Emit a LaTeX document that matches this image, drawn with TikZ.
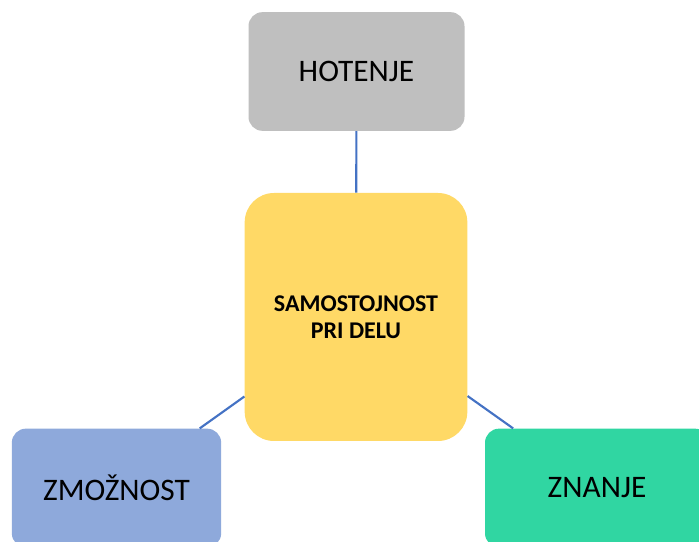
\documentclass[tikz,border=0pt]{standalone}
\usepackage{fontspec}
\setmainfont{Carlito}
\usepackage{tikz}
\usetikzlibrary{positioning}
\definecolor{box_gray}{RGB}{191,191,191}
\definecolor{box_yellow}{RGB}{255,217,102}
\definecolor{box_blue}{RGB}{142,169,219}
\definecolor{box_green}{RGB}{48,214,162}
\definecolor{link_blue}{RGB}{68,114,196}

\begin{document}
\begin{tikzpicture}[x=0.75pt,y=0.75pt,
    pojem/.style={rounded corners=10.5pt,minimum width=162pt,minimum height=89pt,font=\fontsize{23.5}{28}\selectfont,inner sep=0pt},
    jedro/.style={rounded corners=22pt,minimum width=167pt,minimum height=186pt,align=center,font=\fontsize{18}{20.5}\selectfont\bfseries},
    vez/.style={link_blue,line width=1.6pt}]
  \useasboundingbox (0,0) rectangle (699,542);
  \clip (0,0) rectangle (699,542);
  % osrednji pojem
  \node[jedro,fill=box_yellow] (sam) at (356,225) {SAMOSTOJNOST\\PRI DELU};
  % trije pogoji
  \node[pojem,fill=box_gray] (hot) at (356.5,470.5) {HOTENJE};
  \node[pojem,fill=box_blue,minimum width=157pt] (zmo) at (116.5,54) {ZMOŽNOST};
  \node[pojem,fill=box_green,minimum width=168pt] (zna) at (597,54) {ZNANJE};
  \draw[vez] (hot) -- (sam);
  \draw[vez] (zmo) -- (sam);
  \draw[vez] (zna) -- (sam);
\end{tikzpicture}
\end{document}
